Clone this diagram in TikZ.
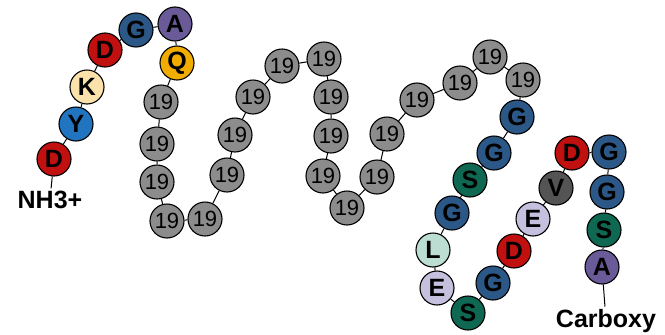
\documentclass[tikz,border=0pt]{standalone}
\usepackage{fontspec}
\setmainfont{Liberation Sans}
\definecolor{aaRed}{RGB}{192,16,16}
\definecolor{aaBlue}{RGB}{32,116,192}
\definecolor{aaSand}{RGB}{250,226,170}
\definecolor{aaSteel}{RGB}{44,88,136}
\definecolor{aaPurple}{RGB}{106,90,152}
\definecolor{aaGold}{RGB}{240,172,0}
\definecolor{aaGray}{RGB}{140,140,140}
\definecolor{aaTeal}{RGB}{14,104,82}
\definecolor{aaMint}{RGB}{188,222,210}
\definecolor{aaLilac}{RGB}{196,192,222}
\definecolor{aaSlate}{RGB}{84,84,84}
\begin{document}
\begin{tikzpicture}[x=1pt, y=-1pt,
          res/.style={circle, draw, line width=1.1pt, minimum size=34pt, inner sep=0pt, font=\bfseries\fontsize{25}{25}\selectfont},
          resD/.style={res, fill=aaRed}, resY/.style={res, fill=aaBlue}, resK/.style={res, fill=aaSand},
          resG/.style={res, fill=aaSteel}, resA/.style={res, fill=aaPurple}, resQ/.style={res, fill=aaGold},
          resS/.style={res, fill=aaTeal}, resL/.style={res, fill=aaMint}, resE/.style={res, fill=aaLilac},
          resV/.style={res, fill=aaSlate}, rep/.style={res, fill=aaGray, font=\fontsize{22}{22}\selectfont},
          lbl/.style={font=\bfseries\fontsize{25}{25}\selectfont, inner sep=2pt},
          bond/.style={line width=1pt}]
        \useasboundingbox (0,0) rectangle (665,335);
        % N-terminal part
        \node[resD] (p1) at (54,159) {D};
        \node[resY] (p2) at (76,124) {Y};
        \node[resK] (p3) at (87,87) {K};
        \node[resD] (p4) at (105,50) {D};
        \node[resG] (p5) at (136,30) {G};
        \node[resA] (p6) at (175,24) {A};
        \node[resQ] (p7) at (177,63) {Q};
        % repeat block
        \node[rep] (p8) at (161,102) {19};
        \node[rep] (p9) at (157,144) {19};
        \node[rep] (p10) at (157,182) {19};
        \node[rep] (p11) at (167,221) {19};
        \node[rep] (p12) at (205,219) {19};
        \node[rep] (p13) at (227,175) {19};
        \node[rep] (p14) at (235,135) {19};
        \node[rep] (p15) at (253,97) {19};
        \node[rep] (p16) at (282,66) {19};
        \node[rep] (p17) at (324,59) {19};
        \node[rep] (p18) at (331,97) {19};
        \node[rep] (p19) at (331,136) {19};
        \node[rep] (p20) at (323,176) {19};
        \node[rep] (p21) at (347,208) {19};
        \node[rep] (p22) at (377,177) {19};
        \node[rep] (p23) at (387,134) {19};
        \node[rep] (p24) at (417,100) {19};
        \node[rep] (p25) at (460,83) {19};
        \node[rep] (p26) at (490,57) {19};
        \node[rep] (p27) at (523,80) {19};
        % C-terminal part
        \node[resG] (p28) at (517,117) {G};
        \node[resG] (p29) at (494,153) {G};
        \node[resS] (p30) at (470,180) {S};
        \node[resG] (p31) at (452,213) {G};
        \node[resL] (p32) at (433,250) {L};
        \node[resE] (p33) at (437,288) {E};
        \node[resS] (p34) at (468,313) {S};
        \node[resG] (p35) at (493,283) {G};
        \node[resD] (p36) at (514,251) {D};
        \node[resE] (p37) at (533,219) {E};
        \node[resV] (p38) at (556,188) {V};
        \node[resD] (p39) at (572,153) {D};
        \node[resG] (p40) at (609,152) {G};
        \node[resG] (p41) at (607,192) {G};
        \node[resS] (p42) at (604,230) {S};
        \node[resA] (p43) at (602,267) {A};
        \node[lbl, anchor=base] (nterm) at (50,208) {NH3+};
        \node[lbl, anchor=base] (cterm) at (606,327) {Carboxy};
        \draw[bond] (nterm) -- (p1) -- (p2) -- (p3) -- (p4) -- (p5) -- (p6) -- (p7) -- (p8) -- (p9) -- (p10)
          -- (p11) -- (p12) -- (p13) -- (p14) -- (p15) -- (p16) -- (p17) -- (p18) -- (p19) -- (p20)
          -- (p21) -- (p22) -- (p23) -- (p24) -- (p25) -- (p26) -- (p27) -- (p28) -- (p29) -- (p30)
          -- (p31) -- (p32) -- (p33) -- (p34) -- (p35) -- (p36) -- (p37) -- (p38) -- (p39) -- (p40)
          -- (p41) -- (p42) -- (p43) -- (cterm);
      \end{tikzpicture}
\end{document}
